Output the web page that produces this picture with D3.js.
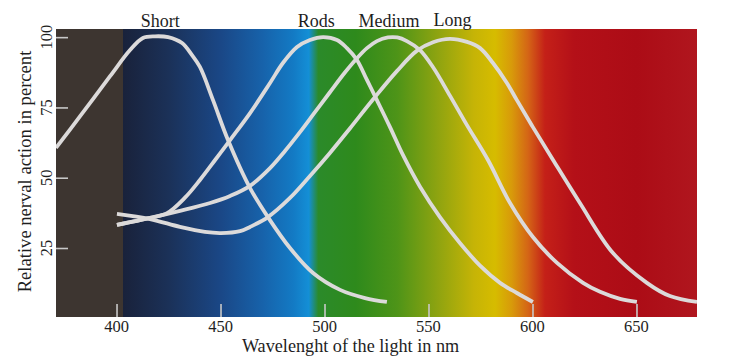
<!DOCTYPE html>
<html><head><meta charset="utf-8">
<script src="https://cdn.jsdelivr.net/npm/d3@7"></script>
<style>
body{margin:0;background:#fff}
svg{display:block}
text{font-family:"Liberation Serif","Times New Roman",serif;fill:#1e1e1e}
</style>
</head><body><svg id="c" width="729" height="360"></svg>
<script>
// ---- data ----
const shortNm  = [370.9,382.5,396.9,406.5,412.7,418.5,424.8,431.5,436.3,440.1,446.4,453.6,464.2,472.8,483.4,494.5,507.5,519.5,530.0];
const shortVal = [60.6,71.9,86.1,95.4,99.7,100.3,100.0,97.9,93.6,89.4,77.6,63.4,46.3,36.0,25.0,16.1,10.1,7.2,5.8];

const rodsNm  = [400.2,416.1,424.3,432.9,440.1,447.4,454.6,464.2,473.8,480.0,486.8,493.0,499.3,506.0,510.8,515.6,520.4,525.2,531.5,537.7,546.0,555.5,565.1,574.8,584.4,592.5,600.2];
const rodsVal = [33.2,35.7,37.4,42.9,49.2,56.3,63.4,73.0,83.7,90.8,96.5,99.0,100.0,99.0,96.1,91.9,84.8,77.6,68.0,58.1,46.7,36.0,26.8,18.7,12.6,9.0,5.8];

const mediumNm  = [400.2,416.1,430.5,445.0,454.6,464.2,473.8,481.0,488.2,495.4,502.6,509.9,515.6,520.4,525.2,530.5,535.0,539.6,545.9,552.2,560.3,568.5,578.6,589.2,600.2,611.8,624.3,632.5,642.1,650.2];
const mediumVal = [33.2,35.7,38.2,41.0,43.5,47.1,53.4,59.5,66.2,73.3,80.4,87.5,92.5,96.1,98.6,99.9,99.9,98.6,95.4,89.3,79.2,68.7,56.3,41.0,28.9,19.7,12.6,9.4,6.9,5.8];

const longNm  = [400.2,416.1,430.5,442.5,450.2,459.4,464.2,472.8,483.4,493.0,502.6,512.3,523.3,534.9,544.5,552.2,560.3,568.5,574.8,581.0,587.7,592.5,600.2,609.9,622.8,638.7,655.0,666.1,679.1];
const longVal = [37.1,35.3,32.5,30.7,30.3,31.0,32.5,36.0,42.8,50.6,58.8,67.6,77.8,88.0,95.2,98.2,99.4,98.3,96.1,90.8,83.7,77.6,68.0,56.3,41.0,23.2,12.6,7.9,5.8];

const curveNames = ["Short","Rods","Medium","Long"];
const labelNm    = [421, 496, 531, 561.5];

const xTicks = [400,450,500,550,600,650];
const yTicks = [25,50,75,100];

const spectrumNm    = [370.9,403.0,403.3,425,450,470,485,492.5,497,515,535,555,572,582,590,598,606,620,650,679.1];
const spectrumColor = ["#3d3530","#3d3530","#19223b","#1b3158","#1a4786","#1762aa","#137ac4","#148fd6","#2b8a2a","#2e8a1c","#4e9418","#90a410","#c6b406","#d6bc00","#d89a0a","#d46416","#c42018","#b41018","#ac0c16","#b0161e"];

// ---- layout ----
const svg = d3.select("#c");
const L = 56, T = 29, R = 697, B = 317;
const x = d3.scaleLinear().domain([370.9, 679.1]).range([L, R]);
const y = d3.scaleLinear().domain([0.46, 102.9]).range([B, T]);

// background spectrum gradient
const defs = svg.append("defs");
const grad = defs.append("linearGradient").attr("id","spec")
  .attr("gradientUnits","userSpaceOnUse")
  .attr("x1", L).attr("x2", R).attr("y1", 0).attr("y2", 0);
spectrumNm.forEach((n,i)=>{
  grad.append("stop").attr("offset", (x(n)-L)/(R-L)).attr("stop-color", spectrumColor[i]);
});
defs.append("clipPath").attr("id","plotclip").append("rect")
  .attr("x",L).attr("y",T).attr("width",R-L).attr("height",B-T);

svg.append("rect").attr("x",L).attr("y",T).attr("width",R-L).attr("height",B-T)
  .attr("fill","url(#spec)");

// ticks (inside)
const tickCol = "#c8c8c8";
const xAxis = d3.axisTop(x).tickValues(xTicks).tickSize(13).tickFormat("");
const gx = svg.append("g").attr("transform",`translate(0,${B})`).call(xAxis);
gx.select(".domain").remove();
gx.selectAll(".tick line").attr("stroke",tickCol).attr("stroke-width",1.6);

const yAxis = d3.axisRight(y).tickValues(yTicks).tickSize(12).tickFormat("");
const gy = svg.append("g").attr("transform",`translate(${L},0)`).call(yAxis);
gy.select(".domain").remove();
gy.selectAll(".tick line").attr("stroke",tickCol).attr("stroke-width",1.6);

// tick labels
svg.append("g").selectAll("text").data(xTicks).join("text")
  .attr("x", d=>x(d)).attr("y", 332).attr("text-anchor","middle")
  .attr("font-size",16.5).text(d=>d);
svg.append("g").selectAll("text").data(yTicks).join("text")
  .attr("transform", d=>`translate(52,${y(d)}) rotate(-90)`)
  .attr("text-anchor","middle").attr("font-size",16.5).text(d=>d);

// curves
const line = d3.line().x(d=>x(d[0])).y(d=>y(d[1])).curve(d3.curveCatmullRom.alpha(0.5));
const series = [[shortNm,shortVal],[rodsNm,rodsVal],[mediumNm,mediumVal],[longNm,longVal]];
const gc = svg.append("g").attr("clip-path","url(#plotclip)");
series.forEach(([n,v])=>{
  gc.append("path").datum(d3.zip(n,v)).attr("d",line)
    .attr("fill","none").attr("stroke","#dcdada").attr("stroke-width",3.8)
    .attr("stroke-linecap","butt").attr("stroke-linejoin","round");
});

// curve labels
svg.append("g").selectAll("text").data(curveNames).join("text")
  .attr("x",(d,i)=>x(labelNm[i])).attr("y",(d,i)=> i===3 ? 25.5 : 26.5)
  .attr("text-anchor","middle").attr("font-size",18).text(d=>d);

// axis titles
svg.append("text").attr("x",350.5).attr("y",352).attr("text-anchor","middle")
  .attr("font-size",18.2).text("Wavelenght of the light in nm");
svg.append("text").attr("transform","translate(31,171.5) rotate(-90)")
  .attr("text-anchor","middle").attr("font-size",18.6).text("Relative nerval action in percent");
</script>
</body></html>
